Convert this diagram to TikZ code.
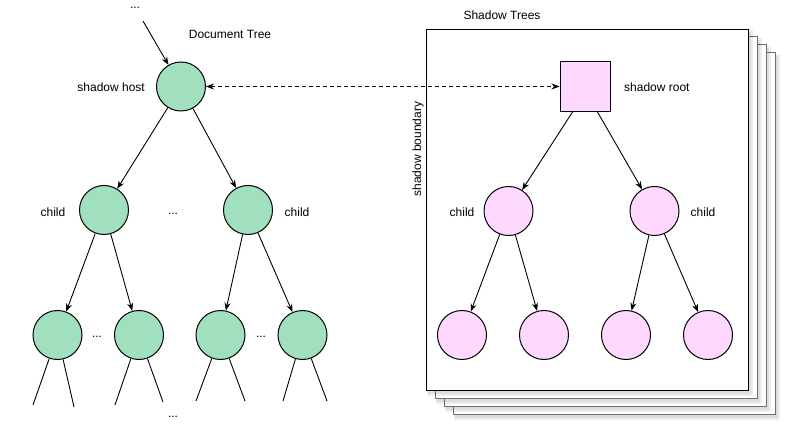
\documentclass[tikz,border=0pt]{standalone}
\usepackage{fontspec}
\setmainfont{Liberation Sans}
\usetikzlibrary{arrows.meta}
\definecolor{greenfill}{RGB}{160,224,190}
\definecolor{pinkfill}{RGB}{255,216,255}
\definecolor{pagegray}{RGB}{110,110,110}
\begin{document}
\begin{tikzpicture}[x=1pt,y=-1pt,
  gnode/.style={circle,draw,fill=greenfill,minimum size=49pt,inner sep=0pt,line width=1pt},
  pnode/.style={circle,draw,fill=pinkfill,minimum size=49pt,inner sep=0pt,line width=1pt},
  lbl/.style={font=\fontsize{12}{14}\selectfont, inner sep=0pt},
  edge/.style={-{Stealth[length=8pt,width=6pt]}, line width=0.9pt},
  plain/.style={line width=0.9pt},
  backpage/.style={draw=pagegray,fill=white,line width=1pt},
  frontpage/.style={draw=black,fill=white,line width=0.9pt},
  pshadow/.style={fill=black,opacity=0.07,draw=none}
]
\useasboundingbox (0,0) rectangle (786,427);

% stacked pages
\foreach \k in {3,2,1} {
  \fill[pshadow] (426+9*\k+2,29+8*\k+3) rectangle (748+9*\k+3,390+8*\k+4);
  \fill[pshadow] (426+9*\k+1,29+8*\k+1) rectangle (748+9*\k+5,390+8*\k+6);
  \draw[backpage] (426+9*\k,29+8*\k) rectangle (748+9*\k,390+8*\k);
}
\fill[pshadow] (428,32) rectangle (751,394);
\fill[pshadow] (427,30) rectangle (753,396);
\draw[frontpage] (426,29) rectangle (748,390);

% labels
\node[lbl] (dots0) at (135,8) {...};
\coordinate (top) at (143,21);
\node[lbl] (doctree) at (230,34) {Document Tree};
\node[lbl] (shtrees) at (502,15) {Shadow Trees};
\node[lbl,rotate=90] (boundary) at (418,149) {shadow boundary};

% document tree
\node[gnode] (host) at (181,86.5) {};
\node[lbl,anchor=east] (hostlbl) at (145,87) {shadow host};
\node[gnode] (c1) at (104,210) {};
\node[gnode] (c2) at (248,210) {};
\node[lbl] (c1lbl) at (53,212) {child};
\node[lbl] (c2lbl) at (297,212) {child};
\node[lbl] (dots1) at (173,214) {...};

\node[gnode] (g1) at (57.5,335) {};
\node[gnode] (g2) at (139,335) {};
\node[gnode] (g3) at (220.5,335) {};
\node[gnode] (g4) at (302.5,335) {};
\node[lbl] (dots2) at (97,337) {...};
\node[lbl] (dots3) at (261,337) {...};
\node[lbl] (dots4) at (173,417) {...};

\draw[edge] (top) -- (host);
\draw[edge] (host) -- (c1);
\draw[edge] (host) -- (c2);
\draw[edge] (c1) -- (g1);
\draw[edge] (c1) -- (g2);
\draw[edge] (c2) -- (g3);
\draw[edge] (c2) -- (g4);

\coordinate (e1a) at (33,405);
\coordinate (e1b) at (74,407);
\coordinate (e2a) at (115,405);
\coordinate (e2b) at (163,402);
\coordinate (e3a) at (196,401);
\coordinate (e3b) at (245,401);
\coordinate (e4a) at (283,401);
\coordinate (e4b) at (327,401);
\draw[plain] (g1) -- (e1a);
\draw[plain] (g1) -- (e1b);
\draw[plain] (g2) -- (e2a);
\draw[plain] (g2) -- (e2b);
\draw[plain] (g3) -- (e3a);
\draw[plain] (g3) -- (e3b);
\draw[plain] (g4) -- (e4a);
\draw[plain] (g4) -- (e4b);

% shadow tree
\node[draw,fill=pinkfill,minimum size=50pt,inner sep=0pt,line width=1pt] (root) at (585,86.5) {};
\node[lbl,anchor=west] (rootlbl) at (624,87) {shadow root};
\node[pnode] (p1) at (508.5,211) {};
\node[pnode] (p2) at (654.5,211) {};
\node[lbl] (p1lbl) at (462,212) {child};
\node[lbl] (p2lbl) at (703,212) {child};
\node[pnode] (q1) at (462,335) {};
\node[pnode] (q2) at (544,335) {};
\node[pnode] (q3) at (626,335) {};
\node[pnode] (q4) at (708,335) {};

\draw[edge] (root.south west) ++(13,0) coordinate (rs1) (rs1) -- (p1);
\draw[edge] (root.south east) ++(-13,0) coordinate (rs2) (rs2) -- (p2);
\draw[edge] (p1) -- (q1);
\draw[edge] (p1) -- (q2);
\draw[edge] (p2) -- (q3);
\draw[edge] (p2) -- (q4);

\draw[{Stealth[length=8pt,width=6pt]}-{Stealth[length=8pt,width=6pt]},line width=0.9pt,dash pattern=on 4pt off 3pt] (host) -- (root);
\end{tikzpicture}
\end{document}
